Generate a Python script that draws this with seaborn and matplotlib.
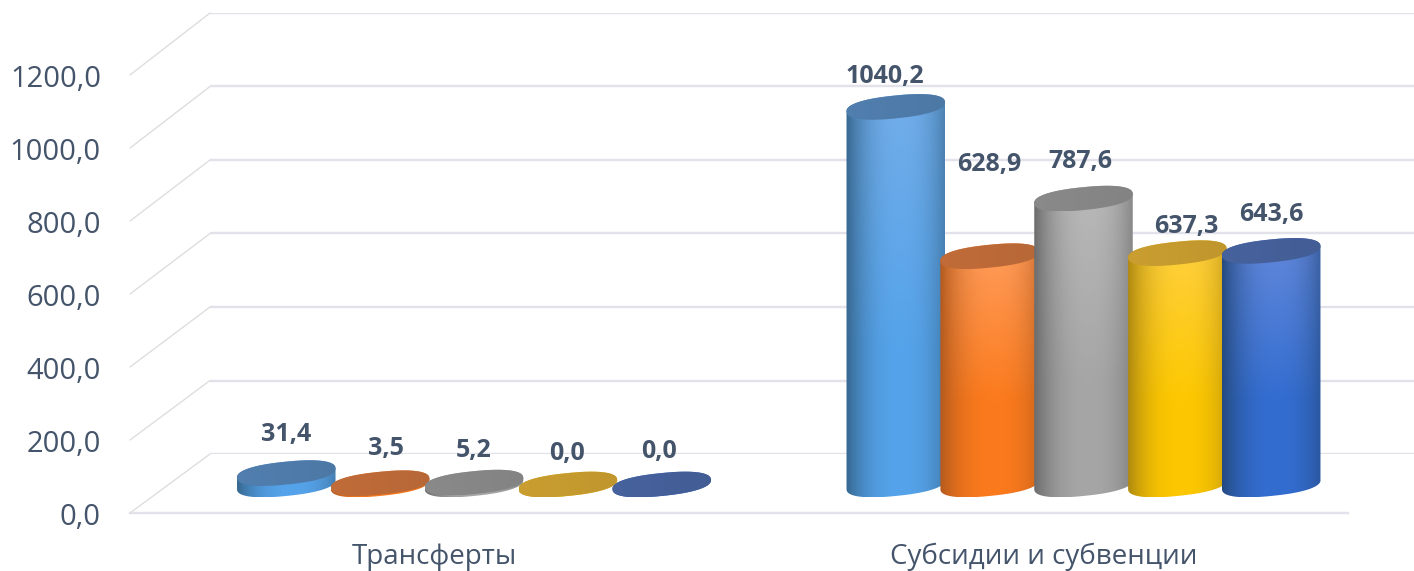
import numpy as np
import pandas as pd
import matplotlib.pyplot as plt
import seaborn as sns
from matplotlib.colors import to_rgb
from matplotlib.patches import ConnectionPatch, Polygon
from matplotlib.transforms import ScaledTranslation

# Values
categories = ['Трансферты', 'Субсидии и субвенции']
series_names = ['Ряд 1', 'Ряд 2', 'Ряд 3', 'Ряд 4', 'Ряд 5']
series_1 = [31.4, 1040.2]
series_2 = [3.5, 628.9]
series_3 = [5.2, 787.6]
series_4 = [0.0, 637.3]
series_5 = [0.0, 643.6]
axis_ticks = [0, 200, 400, 600, 800, 1000, 1200]

# Colours of the cylinders: top of side, bottom of side, edge shade, lid
top_colors = ['#72ade9', '#ff9d5c', '#b8b8b8', '#ffd040', '#6288da']
low_colors = ['#55a3ea', '#fb7a1c', '#a6a6a6', '#fdc800', '#336dd0']
edge_colors = ['#37678f', '#b35a1e', '#6c6c6c', '#b08a10', '#254a80']
lid_colors = ['#4f7cab', '#bd6a38', '#878787', '#c69b2f', '#45609a']
text_color = '#44546a'
grid_color = '#e2e2ea'

# Label shift from the centre of each lid, pixels, series by series
label_shift = [[(0, 39), (-11, 30)], [(6, 35), (0, 92)], [(0, 32), (-3, 37)],
               [(-1, 31), (9, 27)], [(-3, 33), (0, 36)]]

W, H = 1414, 571
RX, RY, TILT = 49.5, 11.4, np.radians(5.8)
PX_PER_UNIT = 0.363

sns.set_style('white')
plt.rcParams['font.family'] = ['Open Sans', 'DejaVu Sans']


def px_axes(fig, left, right, top, bottom):
    ax = fig.add_axes([left / W, 1 - bottom / H, (right - left) / W, (bottom - top) / H])
    ax.patch.set_alpha(0)
    return ax


def shade(ax, pts, image, extent):
    outline = Polygon(pts, closed=True, fc='none', ec='none', transform=ax.transData)
    ax.add_patch(outline)
    im = ax.imshow(image, extent=extent, aspect='auto', origin='upper',
                   interpolation='bilinear', zorder=3)
    im.set_clip_path(outline)


def arc(ax, x, y, start, stop):
    # part of a tilted rounded ellipse, worked out in pixels and returned in data units
    cx, cy = ax.transData.transform((x, y))
    t = np.linspace(start, stop, 80)
    c = np.sign(np.cos(t)) * np.abs(np.cos(t)) ** 0.85
    s = np.sign(np.sin(t)) * np.abs(np.sin(t)) ** 0.85
    px = cx + RX * c * np.cos(TILT) - RY * s * np.sin(TILT)
    py = cy + RX * c * np.sin(TILT) + RY * s * np.cos(TILT)
    return ax.transData.inverted().transform(np.column_stack([px, py]))


def side_image(i):
    u = np.linspace(0, 1, 120)
    v = np.linspace(0, 1, 80)[:, None, None]
    bend = (np.abs(u - 0.55) / 0.55)[None, :, None] ** 2.4
    body = np.array(to_rgb(top_colors[i])) * (1 - np.minimum(v * 1.6, 1)) \
        + np.array(to_rgb(low_colors[i])) * np.minimum(v * 1.6, 1)
    return body * (1 - bend) + np.array(to_rgb(edge_colors[i])) * bend


def lid_image(i):
    u = np.linspace(0, 1, 120)[None, :, None]
    base = np.array(to_rgb(lid_colors[i]))
    return np.clip(base * (1.02 - 0.05 * u), 0, 1)


fig = plt.figure(figsize=(W / 100, H / 100), dpi=100)

# back wall with its gridlines
wall = px_axes(fig, 210, 1430, 13, 454)
wall.set_ylim(0, 1200)
wall.set_xticks([])
wall.set_yticks(axis_ticks)
wall.set_yticklabels([])
wall.grid(axis='y', color=grid_color, lw=1.7)
wall.tick_params(length=0)
sns.despine(ax=wall, left=True, bottom=True)

# front edge carrying the value labels
front = px_axes(fig, 130, 1348, 75, 513)
front.set_ylim(0, 1200)
front.set_xticks([])
front.set_yticks(axis_ticks)
front.set_yticklabels([f'{v:.1f}'.replace('.', ',') for v in axis_ticks],
                      fontsize=21, color=text_color)
front.tick_params(axis='y', length=0, pad=21)
for label in front.get_yticklabels():
    label.set_transform(label.get_transform() + ScaledTranslation(0, -0.01, fig.dpi_scale_trans))
sns.despine(ax=front, left=True)
front.spines['bottom'].set_color(grid_color)
front.spines['bottom'].set_linewidth(1.7)

for v in axis_ticks:
    fig.add_artist(ConnectionPatch((0, v), (0, v), coordsA=front.get_yaxis_transform(),
                                   coordsB=wall.get_yaxis_transform(),
                                   color='#dedede', lw=1))

# bars, axes reach below zero so the round bottoms are not cut
df = pd.DataFrame({
    'category': categories * 5,
    'series': np.repeat(series_names, 2),
    'value': series_1 + series_2 + series_3 + series_4 + series_5,
})
floor_y = 484.5
ax = px_axes(fig, 169.25, 1388.25, floor_y - 1200 * PX_PER_UNIT, floor_y + 100 * PX_PER_UNIT)
sns.barplot(data=df, x='category', y='value', hue='series', palette=top_colors,
            width=0.77, saturation=1, legend=False, ax=ax)
ax.set_xlim(-0.5, 1.5)
ax.set_ylim(-100, 1200)
ax.set_xlabel('')
ax.set_ylabel('')
ax.set_yticks([])
ax.tick_params(axis='x', length=0, pad=16, labelsize=20, labelcolor=text_color)
for label in ax.get_xticklabels():
    label.set_transform(label.get_transform() + ScaledTranslation(-0.4, 0, fig.dpi_scale_trans))
sns.despine(ax=ax, left=True, bottom=True)

for i, bars in enumerate(ax.containers):
    for j, bar in enumerate(bars):
        bar.set_alpha(0)
        x = bar.get_x() + bar.get_width() / 2
        top = bar.get_height()
        low_edge = arc(ax, x, 0, np.pi, 2 * np.pi)
        top_edge = arc(ax, x, top, 0, np.pi)
        lid = arc(ax, x, top, 0, 2 * np.pi)
        side = np.vstack([low_edge, top_edge])
        extent = (side[:, 0].min(), side[:, 0].max(), side[:, 1].min(), side[:, 1].max())
        shade(ax, side, side_image(i), extent)
        extent = (lid[:, 0].min(), lid[:, 0].max(), lid[:, 1].min(), lid[:, 1].max())
        shade(ax, lid, lid_image(i), extent)
        ax.annotate(f'{top:.1f}'.replace('.', ','), (x, top),
                    xytext=(label_shift[i][j][0] * 0.72, label_shift[i][j][1] * 0.72),
                    textcoords='offset points', ha='center', va='center',
                    fontsize=18, fontweight='bold', color=text_color, zorder=5)

ax.set_xlim(-0.5, 1.5)
ax.set_ylim(-100, 1200)

fig.savefig('out.png', dpi=100, facecolor='white')
